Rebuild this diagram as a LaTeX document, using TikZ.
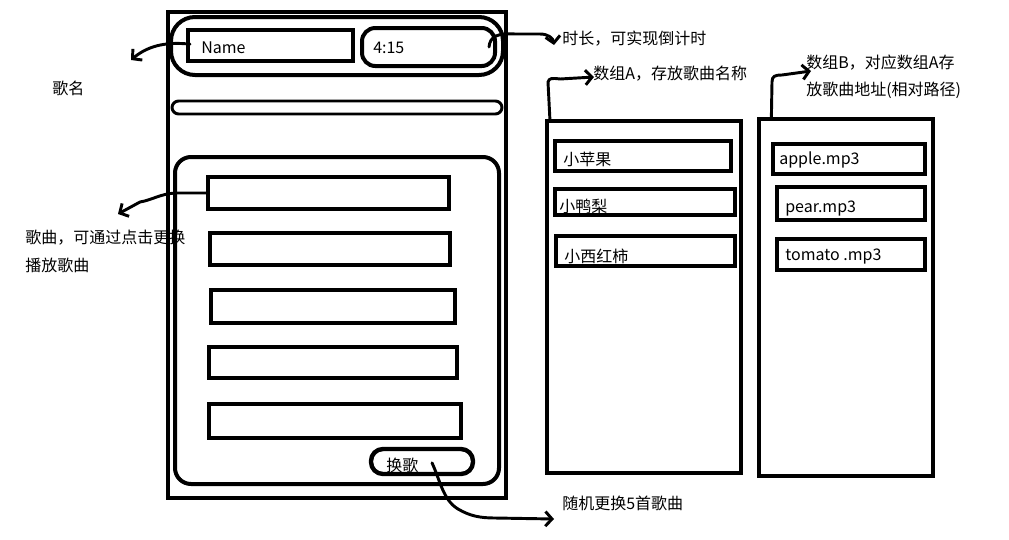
\documentclass[tikz,border=0pt]{standalone}
\usepackage{fontspec}
\setmainfont{Noto Sans CJK SC}
\usetikzlibrary{fit,arrows.meta}
\begin{document}
\begin{tikzpicture}[x=0.75pt,y=-0.75pt,
  frame/.style={draw, line width=3pt, inner sep=0pt},
  slot/.style={draw, line width=3.6pt, inner sep=0pt},
  lbl/.style={anchor=west, inner sep=0pt, font=\fontsize{12}{14}\selectfont},
  pen/.style={line width=2.2pt, line cap=round, line join=round},
  hook/.style={pen, -{Straight Barb[length=5pt,width=11pt,line width=2.2pt]}}]
\useasboundingbox (0,0) rectangle (1009,539);
\fill[white] (0,0) rectangle (1009,539);

% phone screen
\node[frame, fit={(168,12)(506,498)}] (phone) {};
\node[frame, rounded corners=18pt, fit={(171,17)(503,75)}] (header) {};
\node[frame, fit={(188,30)(353,61)}] (namebox) {};
\node[frame, rounded corners=10pt, fit={(362,28)(495,66)}] (timebox) {};
\node[frame, line width=2.2pt, rounded corners=5pt, fit={(172,101)(502,114)}] (bar) {};
\node[frame, rounded corners=12pt, fit={(175,157)(499,484)}] (list) {};
\node[slot, fit={(208,177)(449,209)}] (song1) {};
\node[slot, fit={(210,233)(450,265)}] (song2) {};
\node[slot, fit={(211,290)(455,323)}] (song3) {};
\node[slot, fit={(209,347)(457,378)}] (song4) {};
\node[slot, fit={(209,404)(461,438)}] (song5) {};
\node[frame, line width=3.3pt, rounded corners=9pt, fit={(371,449)(473,474)}] (btn) {};

\node[lbl] (nametxt) at (201,48) {Name};
\node[lbl] (timetxt) at (373,48) {4:15};
\node[lbl] (btntxt) at (386,465) {换歌};

% array A: song names
\node[frame, line width=3.5pt, fit={(547,121)(741,473)}] (arrA) {};
\node[slot, fit={(555,141)(731,171)}] (a1) {};
\node[slot, fit={(555,189)(735,215)}] (a2) {};
\node[slot, fit={(556,236)(735,266)}] (a3) {};
\node[lbl] (a1txt) at (563,159) {小苹果};
\node[lbl] (a2txt) at (559,206) {小鸭梨};
\node[lbl] (a3txt) at (564,256) {小西红柿};

% array B: song files
\node[frame, line width=3.5pt, fit={(759,119)(933,476)}] (arrB) {};
\node[slot, fit={(773,144)(925,174)}] (b1) {};
\node[slot, fit={(777,187)(925,220)}] (b2) {};
\node[slot, fit={(777,239)(925,270)}] (b3) {};
\node[lbl] (b1txt) at (779,160) {apple.mp3};
\node[lbl] (b2txt) at (785,209) {pear.mp3};
\node[lbl] (b3txt) at (785,257) {tomato .mp3};

% notes
\node[lbl] (nNameA) at (52,88) {歌名};
\node[lbl] (nTime) at (562,39) {时长，可实现倒计时};
\node[lbl] (nArrA) at (593,74) {数组A，存放歌曲名称};
\node[lbl] (nArrB1) at (806,63) {数组B，对应数组A存};
\node[lbl] (nArrB2) at (806,90) {放歌曲地址(相对路径)};
\node[lbl] (nSong1) at (25,238) {歌曲，可通过点击更换};
\node[lbl] (nSong2) at (25,265) {播放歌曲};
\node[lbl] (nBtn) at (562,503) {随机更换5首歌曲};

% pointer ends
\coordinate (tName) at (131,60);
\coordinate (tTime) at (554,45);
\coordinate (tArrA) at (594,77);
\coordinate (tArrB) at (811,71);
\coordinate (tSong) at (118,214);
\coordinate (tBtn) at (554,519);

% pointers
\draw[hook] ([xshift=3pt,yshift=1pt]namebox.west) .. controls (170,42) and (150,44) .. (tName);
\draw[hook] ([xshift=-6pt]timebox.east) .. controls (490,36) and (498,33) .. (515,34)
  -- (540,34) .. controls (548,34) and (553,38) .. (tTime);
\draw[hook] ([xshift=4pt,yshift=-2pt]arrA.north west) -- (548,82) .. controls (549,78) and (552,78) .. (560,79) -- (tArrA);
\draw[hook] ([xshift=11pt,yshift=-2pt]arrB.north west) -- (772,82) .. controls (772,76) and (775,75) .. (782,75) -- (tArrB);
\draw[hook] (song1.west) -- (175,193) .. controls (160,194) and (152,200) .. (140,202) -- (tSong);
\draw[hook] ([xshift=7.5pt,yshift=-1pt]btn.center) .. controls (440,480) and (443,500) .. (458,509)
  .. controls (470,516) and (480,518) .. (495,518) -- (tBtn);
\end{tikzpicture}
\end{document}
